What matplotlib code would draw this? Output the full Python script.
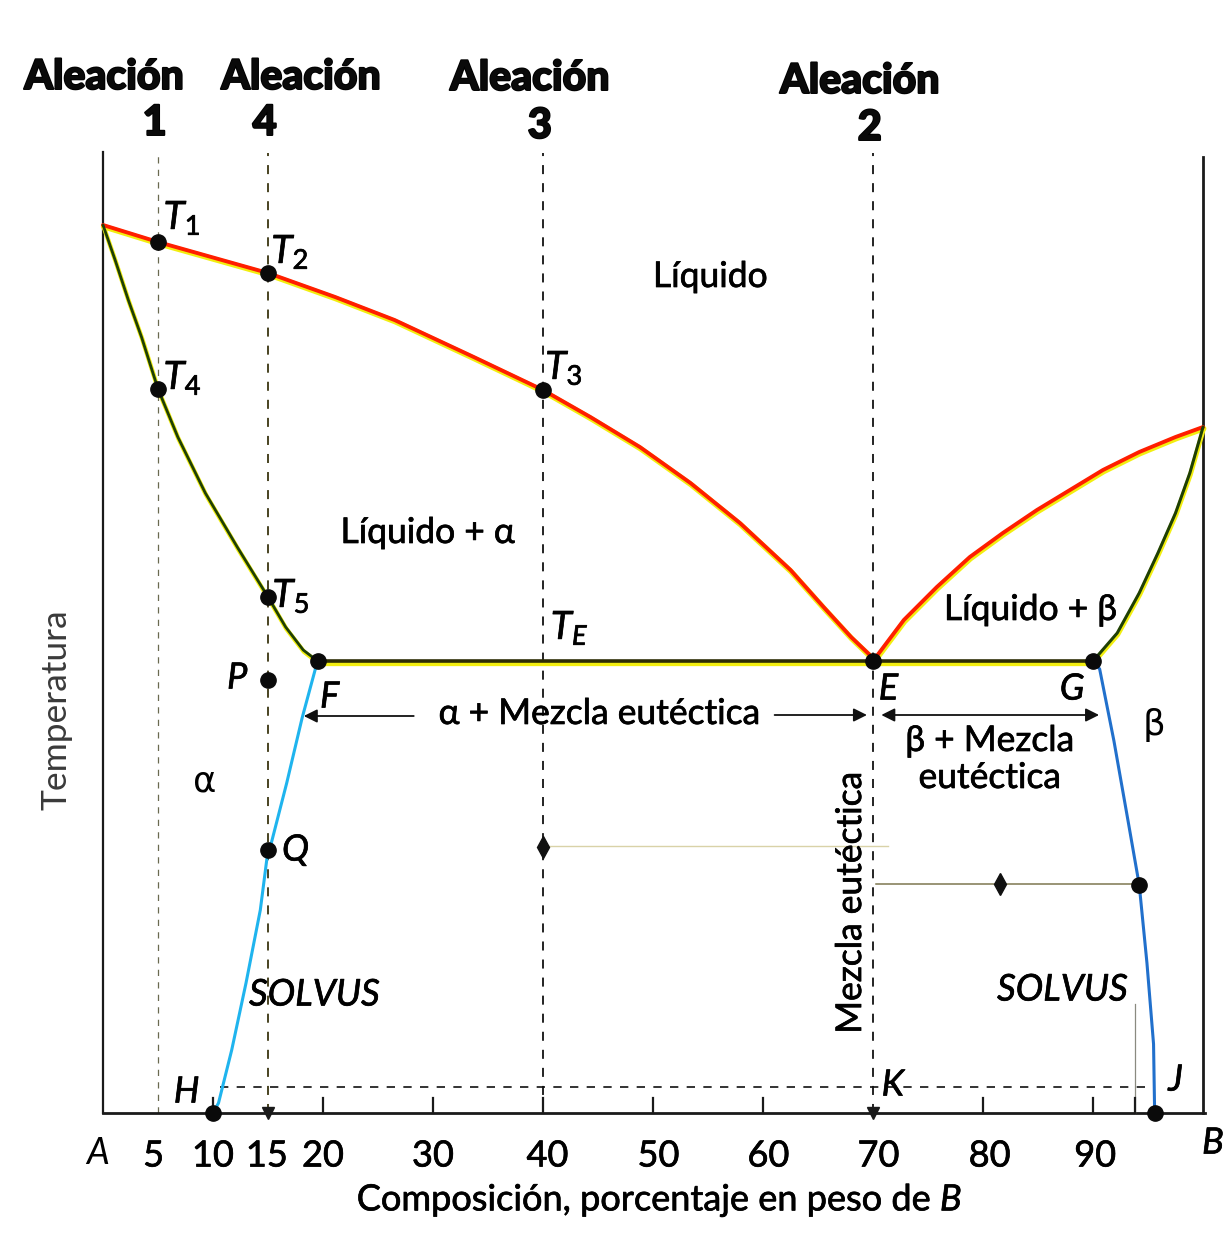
import matplotlib
matplotlib.use('Agg')
import matplotlib.pyplot as plt
import matplotlib.transforms as mtransforms
import matplotlib.patheffects as pe

plt.rcParams['font.family'] = ['Lato', 'DejaVu Sans']
plt.rcParams['mathtext.fontset'] = 'custom'
plt.rcParams['mathtext.rm'] = 'Lato'
plt.rcParams['mathtext.it'] = 'Lato:italic'
plt.rcParams['mathtext.bf'] = 'Lato:bold'

# ---------------- data (composition %B, temperature in arbitrary units) ----------
liq_alpha_c = [0, 5, 15, 21.1, 26.5, 33.7, 40, 44.3, 48.8, 53.4, 57.9, 62.5, 65.5, 68.0, 69.9, 70]
liq_alpha_T = [88.8, 87.1, 84.0, 81.6, 79.3, 75.6, 72.3, 69.6, 66.6, 63.0, 59.0, 54.3, 50.6, 47.6, 45.6, 45.2]

liq_beta_c = [70, 72.8, 75.8, 78.8, 81.8, 84.9, 87.9, 90.9, 94.2, 97.5, 100]
liq_beta_T = [45.2, 49.3, 52.6, 55.6, 58.0, 60.3, 62.3, 64.3, 66.1, 67.6, 68.6]

sol_alpha_c = [0, 1.1, 2.3, 3.5, 5, 6.8, 9.3, 12.2, 15, 16.6, 18.2, 19.5]
sol_alpha_T = [88.8, 85.3, 81.3, 77.6, 72.4, 67.6, 62.0, 56.6, 51.6, 48.6, 46.3, 45.2]

sol_beta_c = [90, 92.2, 94.2, 95.9, 97.5, 98.8, 100]
sol_beta_T = [45.2, 48.0, 52.0, 56.0, 60.0, 64.0, 68.6]

solvus_alpha_c = [19.5, 18.1, 16.7, 15.3, 15.0, 14.3, 13.0, 11.7, 10.5, 10]
solvus_alpha_T = [45.2, 39.5, 33.0, 27.0, 26.3, 20.3, 13.0, 6.3, 1.0, 0]

solvus_beta_c = [90, 90.6, 91.9, 93.2, 94.2, 94.9, 95.5, 95.6]
solvus_beta_T = [45.2, 44.4, 37.2, 29.1, 22.8, 15.0, 6.9, 0]

eutectic_T = 45.2
eutectic_c = [19.5, 90]          # F .. G

alloy_names = ['1', '4', '3', '2']
alloy_c = [5, 15, 40, 70]

point_names = ['T1', 'T2', 'T3', 'T4', 'T5', 'F', 'P', 'Q', 'E', 'G', 'H', 'J', 'S']
point_c = [5, 15, 40, 5, 15, 19.5, 15, 15, 70, 90, 10, 95.6, 94.2]
point_T = [87.1, 84.0, 72.3, 72.4, 51.6, 45.2, 43.3, 26.3, 45.2, 45.2, 0, 0, 22.8]

tie_upper_c = [40, 71.4]
tie_upper_T = [26.7, 26.7]
tie_lower_c = [70.3, 94.2]
tie_lower_T = [22.9, 22.9]
diamond_c = [40, 81.5]
diamond_T = [26.6, 22.9]

solvus_line_T = 2.6
solvus_line_c = [10.6, 94.7]

tick_c = [10, 20, 30, 40, 50, 60, 80, 90, 93.8]
tick_labels = ['5', '10', '15', '20', '30', '40', '50', '60', '70', '80', '90']
tick_label_c = [4.6, 10, 14.9, 20, 30, 40.4, 50.5, 60.5, 70.5, 80.6, 90.2]

# ---------------- figure ----------------
fig = plt.figure(figsize=(12.3, 12.33), dpi=100)
ax = fig.add_axes([0, 0, 1, 1])
ax.set_xlim(-9.364, 102.45)
ax.set_ylim(-12.0, 111.3)
ax.axis('off')

shift = mtransforms.offset_copy(ax.transData, fig=fig, x=0.6, y=-1.6, units='dots')

YEL = '#f2ee10'
RED = '#ff1e00'
GRN = '#1e3f05'
CYAN = '#1fb4ee'
BLUE = '#2170cc'

def fringe(c, T, color, lw=2.6):
    ax.plot(c, T, color=YEL, lw=lw + 1.2, transform=shift, solid_capstyle='round',
            solid_joinstyle='round', zorder=3)
    ax.plot(c, T, color=color, lw=lw, solid_capstyle='round', solid_joinstyle='round', zorder=4)

# frame lines (A and B axes, base)
ax.plot([0, 0], [0, 96.1], color='#1a1a1a', lw=1.6, zorder=2)
ax.plot([100, 100], [0, 95.6], color='#1a1a1a', lw=2.0, zorder=2)
ax.plot([0, 100.2], [0, 0], color='#1a1a1a', lw=2.0, zorder=2)

# alloy dashed lines
for i, c in enumerate(alloy_c):
    col = '#6a6a50' if i == 0 else ('#3a3510' if i == 1 else '#111111')
    lw = 0.9 if i == 0 else 1.3
    ax.plot([c, c], [0, 96.0], color=col, lw=lw, ls=(0, (5, 5)), zorder=1)

# liquidus / solidus / solvus curves
fringe(liq_alpha_c, liq_alpha_T, RED, 2.8)
fringe(liq_beta_c, liq_beta_T, RED, 2.8)
fringe(sol_alpha_c, sol_alpha_T, GRN, 2.0)
fringe(sol_beta_c, sol_beta_T, GRN, 2.2)
fringe(eutectic_c, [eutectic_T, eutectic_T], '#2c2c05', 2.6)
ax.plot(solvus_alpha_c, solvus_alpha_T, color=CYAN, lw=2.2, zorder=4, solid_joinstyle='round')
ax.plot(solvus_beta_c, solvus_beta_T, color=BLUE, lw=2.2, zorder=4, solid_joinstyle='round')

# tie lines and solvus dashed line
ax.plot(tie_upper_c, tie_upper_T, color='#d9d2a8', lw=1.0, zorder=2)
ax.plot(tie_lower_c, tie_lower_T, color='#7d7650', lw=1.1, zorder=2)
ax.plot(diamond_c, diamond_T, ls='none', marker='d', ms=11, color='#111111', zorder=5)
ax.plot(solvus_line_c, [solvus_line_T, solvus_line_T], color='#111111', lw=1.2,
        ls=(0, (5, 5)), zorder=2)
ax.plot([93.8, 93.8], [0, 10.9], color='#8a8a80', lw=0.9, zorder=2)

# ticks on base line
for c in tick_c:
    ax.plot([c, c], [0, 1.5], color='#1a1a1a', lw=1.6, zorder=2)
ax.plot([15, 70], [0, 0], ls='none', marker='v', ms=8, color='#1a1a1a', zorder=5)

# points
ax.plot(point_c, point_T, ls='none', marker='o', ms=11, color='#0a0a0a', zorder=6)

# ---------------- text ----------------
FS = 25.5
thick = [pe.withStroke(linewidth=0.5, foreground='black')]
heavy = [pe.withStroke(linewidth=1.4, foreground='black')]

hdr_c = [0.1, 18.0, 38.8, 68.8]
hdr_T = [103.6, 103.6, 103.5, 103.2]
num_T = [99.0, 99.0, 98.7, 98.5]
for name, c, hc, hT, nT in zip(alloy_names, alloy_c, hdr_c, hdr_T, num_T):
    ax.text(hc, hT, 'Aleación', ha='center', va='center', fontsize=29.5,
            fontweight='black', color='#0a0a0a', path_effects=heavy)
    ax.text(c - 0.3, nT, name, ha='center', va='center', fontsize=30,
            fontweight='black', color='#0a0a0a', path_effects=heavy)

TS = 28
for s, c, T in [(r'$\mathit{T}_{1}$', 5.5, 89.5), (r'$\mathit{T}_{2}$', 15.3, 86.1),
                (r'$\mathit{T}_{3}$', 40.2, 74.5), (r'$\mathit{T}_{4}$', 5.5, 73.5),
                (r'$\mathit{T}_{5}$', 15.4, 51.7), (r'$\mathit{T}_{E}$', 40.7, 48.5)]:
    ax.text(c, T, s, fontsize=TS, ha='left', va='center', path_effects=thick)

for s, c, T in [('P', 12.2, 43.5), ('Q', 17.5, 26.3), ('F', 20.6, 41.6), ('E', 71.4, 42.4),
                ('G', 88.1, 42.4), ('H', 7.6, 2.1), ('K', 71.8, 2.8), ('J', 97.5, 3.3)]:
    ax.text(c, T, s, fontsize=26, style='italic', ha='center', va='center', path_effects=thick)

ax.text(9.2, 33.2, 'α', fontsize=FS, ha='center', va='center', family=['DejaVu Sans'])
ax.text(95.5, 38.8, 'β', fontsize=FS, ha='center', va='center', family=['DejaVu Sans'])
for s, c, T in [('Líquido', 55.2, 83.6), ('Líquido + α', 29.5, 58.0),
                ('Líquido + β', 84.3, 50.3), ('α + Mezcla eutéctica', 45.1, 39.9),
                ('β + Mezcla', 80.6, 37.2), ('eutéctica', 80.6, 33.5)]:
    ax.text(c, T, s, fontsize=FS, ha='center', va='center', path_effects=thick)
ax.text(19.2, 11.8, 'SOLVUS', fontsize=26.5, style='italic', ha='center', va='center',
        path_effects=thick)
ax.text(87.2, 12.3, 'SOLVUS', fontsize=26.5, style='italic', ha='center', va='center',
        path_effects=thick)
ax.text(68.0, 21.0, 'Mezcla eutéctica', fontsize=25.5, ha='center', va='center',
        rotation=90, path_effects=thick)

# arrows
ap = dict(arrowstyle='-|>', color='#111111', lw=1.3, mutation_scale=20)
ax.annotate('', xy=(18.0, 39.7), xytext=(28.5, 39.7), arrowprops=ap)
ax.annotate('', xy=(69.7, 39.8), xytext=(60.8, 39.8), arrowprops=ap)
ax.annotate('', xy=(90.8, 39.8), xytext=(70.5, 39.8),
            arrowprops=dict(arrowstyle='<|-|>', color='#111111', lw=1.3, mutation_scale=20))

# axis labels
for lab, c in zip(tick_labels, tick_label_c):
    ax.text(c, -4.3, lab, fontsize=26, ha='center', va='center', path_effects=thick)
ax.text(-0.5, -4.0, 'A', fontsize=26, style='italic', ha='center', va='center')
ax.text(100.9, -3.0, 'B', fontsize=26, style='italic', ha='center', va='center',
        path_effects=thick)
ax.text(50.6, -8.7, r'Composición, porcentaje en peso de $\mathit{B}$', fontsize=26,
        ha='center', va='center', path_effects=thick)
ax.text(-4.2, 40.3, 'Temperatura', fontsize=25.5, color='#3a3a3a',
        ha='center', va='center', rotation=90)

fig.savefig('out.png', dpi=100, facecolor='white')
